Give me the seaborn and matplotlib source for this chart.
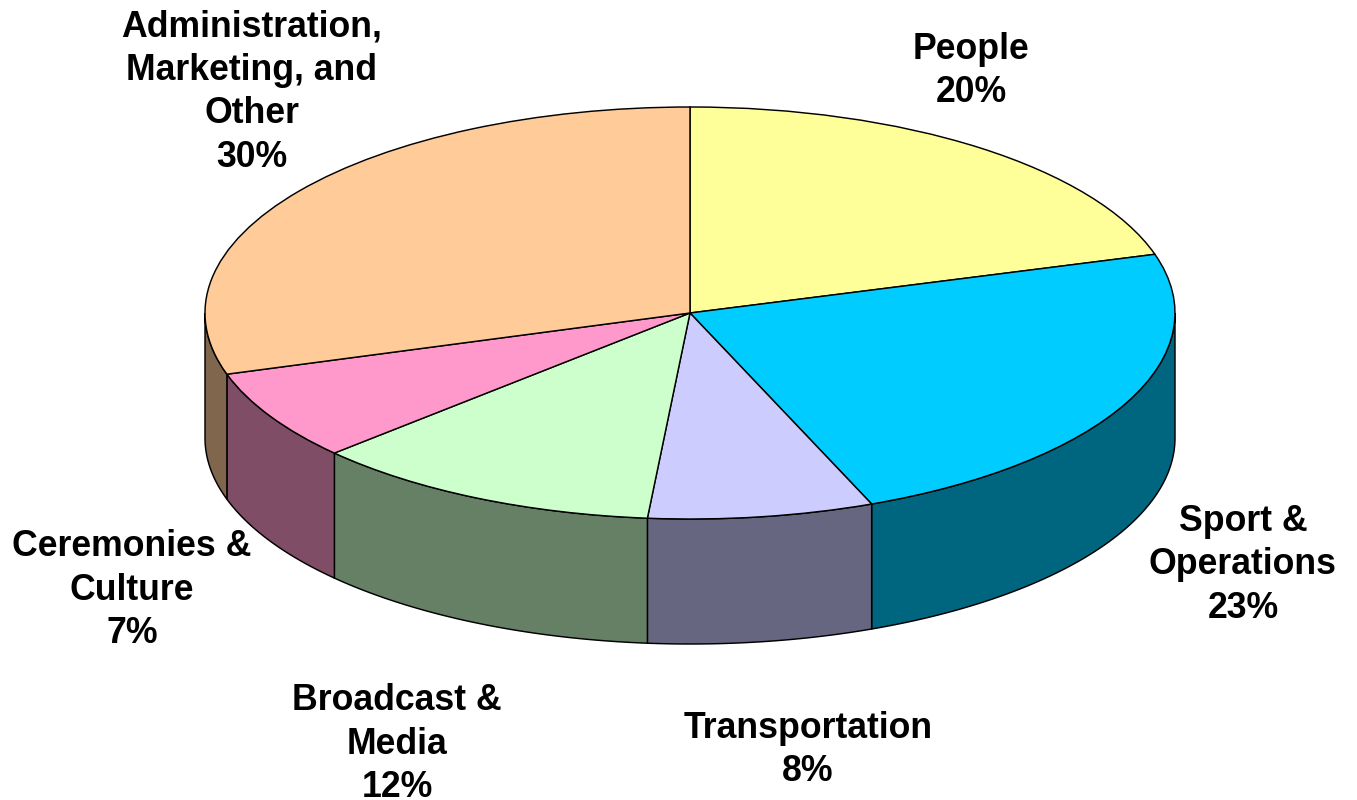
import numpy as np
import matplotlib
matplotlib.use("Agg")
import matplotlib.pyplot as plt
from matplotlib.patches import Polygon
import seaborn as sns

# Budget shares, clockwise from twelve o'clock
categories = ["People", "Sport &\nOperations", "Transportation", "Broadcast &\nMedia",
              "Ceremonies &\nCulture", "Administration,\nMarketing, and\nOther"]
shares = [20.4, 23.49, 7.51, 11.7, 7.1, 29.8]
top_colors = ["#FFFF99", "#00CCFF", "#CCCCFF", "#CCFFCC", "#FF99CC", "#FFCC99"]

# Label centres in figure pixels (origin top-left)
label_x = [971, 1243, 808, 397, 132, 252]
label_y = [71, 565, 750, 744, 590, 92]

W, H = 1357, 800
CX, CY = 690, 313      # pie centre
RX, RY = 485, 206      # radii of the tilted disc
DEPTH = 125            # wall height
EDGE = 1.05

sns.set_theme(style="white")
plt.rcParams["font.family"] = ["Liberation Sans", "DejaVu Sans"]
palette = sns.color_palette(top_colors)
wall_colors = [tuple(c * 0.5 for c in rgb) for rgb in palette]

fig = plt.figure(figsize=(W / 100, H / 100), dpi=100, facecolor="white")
ax = fig.add_axes([0, 0, 1, 1])

# Top face: a regular pie squashed by unequal axis scales
ax.pie(shares, colors=palette, startangle=90, counterclock=False, radius=1,
       wedgeprops=dict(edgecolor="black", linewidth=EDGE, zorder=3))
ax.set_aspect("auto")
ax.set_xlim(-CX / RX, (W - CX) / RX)
ax.set_ylim(-(H - CY) / RY, CY / RY)
ax.axis("off")

# Side walls: only the front half of the rim (90 to 270 degrees clockwise) is visible
depth_units = DEPTH / RY
edges = np.cumsum([0] + shares) / sum(shares) * 360
for start, stop, wall in zip(edges[:-1], edges[1:], wall_colors):
    a, b = max(start, 90), min(stop, 270)
    if a >= b:
        continue
    t = np.radians(np.linspace(a, b, 80))
    rim_x, rim_y = np.sin(t), np.cos(t)
    outline = np.column_stack([np.r_[rim_x, rim_x[::-1]],
                               np.r_[rim_y, rim_y[::-1] - depth_units]])
    ax.add_patch(Polygon(outline, closed=True, facecolor=wall, edgecolor="black",
                         linewidth=EDGE, zorder=2))

# Category labels with percentages rounded to whole numbers
for name, share, x, y in zip(categories, shares, label_x, label_y):
    fig.text(x / W, 1 - y / H, f"{name}\n{share:.0f}%", ha="center", va="center",
             ma="center", fontsize=25.7, fontweight="bold", color="black",
             linespacing=1.32)

fig.savefig("out.png", dpi=100, facecolor="white")
